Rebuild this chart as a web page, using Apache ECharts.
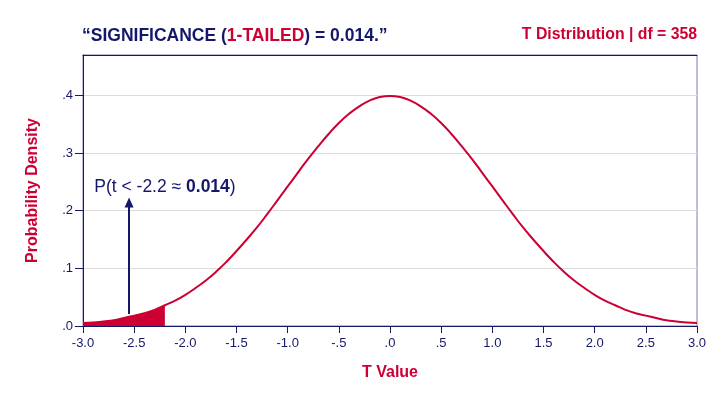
<!DOCTYPE html>
<html>
<head>
<meta charset="utf-8">
<script src="https://cdn.jsdelivr.net/npm/echarts@6/dist/echarts.min.js"></script>
<style>
  html, body { margin: 0; padding: 0; background: #fff; }
  #chart { width: 720px; height: 396px; }
</style>
</head>
<body>
<div id="chart"></div>
<script>
// t values and the density (df = 358)
const tValues = [-3.0, -2.9, -2.8, -2.7, -2.6, -2.5, -2.4, -2.3, -2.2, -2.1, -2.0, -1.9, -1.8, -1.7, -1.6,
  -1.5, -1.4, -1.3, -1.2, -1.1, -1.0, -0.9, -0.8, -0.7, -0.6, -0.5, -0.4, -0.3, -0.2, -0.1, 0.0,
  0.1, 0.2, 0.3, 0.4, 0.5, 0.6, 0.7, 0.8, 0.9, 1.0, 1.1, 1.2, 1.3, 1.4, 1.5,
  1.6, 1.7, 1.8, 1.9, 2.0, 2.1, 2.2, 2.3, 2.4, 2.5, 2.6, 2.7, 2.8, 2.9, 3.0]
const density = [0.005, 0.006, 0.008, 0.010, 0.014, 0.018, 0.022, 0.028, 0.036, 0.044, 0.054, 0.066, 0.079, 0.094, 0.111,
  0.130, 0.150, 0.171, 0.194, 0.218, 0.242, 0.266, 0.290, 0.312, 0.333, 0.352, 0.368, 0.381, 0.391, 0.397, 0.399,
  0.397, 0.391, 0.381, 0.368, 0.352, 0.333, 0.312, 0.290, 0.266, 0.242, 0.218, 0.194, 0.171, 0.150, 0.130,
  0.111, 0.094, 0.079, 0.066, 0.054, 0.044, 0.036, 0.028, 0.022, 0.018, 0.014, 0.010, 0.008, 0.006, 0.005]

// left tail, t < -2.2
const tailT = [-3.0, -2.9, -2.8, -2.7, -2.6, -2.5, -2.4, -2.3, -2.2]
const tailDensity = [0.005, 0.006, 0.008, 0.010, 0.014, 0.018, 0.022, 0.028, 0.036]

// arrow and its label
const arrowFrom = [-2.55, 0.021]
const arrowTo = [-2.55, 0.214]
const notePos = [-2.89, 0.24]

const xTicks = ['-3.0', '-2.5', '-2.0', '-1.5', '-1.0', '-.5', '.0', '.5', '1.0', '1.5', '2.0', '2.5', '3.0']
const yTickValues = [0, 0.1, 0.2, 0.3, 0.4]
const yTicks = ['.0', '.1', '.2', '.3', '.4']

const NAVY = '#15176a'
const RED = '#cc0033'
const FONT = '"Liberation Sans", Arial, sans-serif'

const chart = echarts.init(document.getElementById('chart'))

const option = {
  animation: false,
  textStyle: { fontFamily: FONT },
  title: [{
    left: 82,
    top: 27,
    padding: 0,
    text: '{n|“SIGNIFICANCE (}{r|1-TAILED}{n|) = 0.014.”}',
    textStyle: {
      rich: {
        n: { color: NAVY, fontSize: 17.5, fontWeight: 'bold', fontFamily: FONT },
        r: { color: RED, fontSize: 17.5, fontWeight: 'bold', fontFamily: FONT }
      }
    }
  }, {
    right: 23,
    top: 27,
    padding: 0,
    text: 'T Distribution | df = 358',
    textStyle: { color: RED, fontSize: 15.8, fontWeight: 'bold', fontFamily: FONT }
  }],
  grid: {
    left: 83,
    right: 23,
    top: 55,
    bottom: 70,
    show: true,
    borderColor: '#7a7ab8',
    borderWidth: 1
  },
  xAxis: [{
    type: 'value',
    min: -3,
    max: 3,
    interval: 0.5,
    name: 'T Value',
    nameLocation: 'middle',
    nameGap: 39,
    nameTextStyle: { color: RED, fontSize: 16, fontWeight: 'bold' },
    axisLine: { onZero: false, lineStyle: { color: NAVY, width: 1 } },
    axisTick: { show: true, length: 7, lineStyle: { color: NAVY } },
    axisLabel: {
      color: NAVY,
      fontSize: 13,
      margin: 11,
      formatter: v => xTicks[Math.round((v + 3) * 2)] || ''
    },
    splitLine: { show: false }
  }, {
    // top frame line
    type: 'value',
    position: 'top',
    min: -3,
    max: 3,
    axisLine: { show: true, onZero: false, lineStyle: { color: NAVY, width: 1 } },
    axisTick: { show: false },
    axisLabel: { show: false },
    splitLine: { show: false }
  }],
  yAxis: {
    type: 'value',
    min: 0,
    max: 0.47,
    interval: 0.1,
    name: 'Probability Density',
    nameLocation: 'middle',
    nameGap: 42,
    nameTextStyle: { color: RED, fontSize: 16, fontWeight: 'bold' },
    axisLine: { show: true, onZero: false, lineStyle: { color: NAVY, width: 1 } },
    axisTick: { show: true, length: 8, customValues: yTickValues, lineStyle: { color: NAVY } },
    axisLabel: {
      color: NAVY,
      fontSize: 13,
      margin: 10,
      customValues: yTickValues,
      formatter: v => yTicks[Math.round(v * 10)] || ''
    },
    splitLine: { show: true, lineStyle: { color: '#dcdcdc', width: 1 } }
  },
  series: [{
    // shaded tail
    type: 'line',
    data: tailT.map((t, i) => [t, tailDensity[i]]),
    smooth: true,
    symbol: 'none',
    lineStyle: { width: 0 },
    areaStyle: { color: RED, opacity: 1 },
    z: 2,
    markLine: {
      silent: true,
      symbol: ['none', 'triangle'],
      symbolSize: [9, 10],
      label: { show: false },
      lineStyle: { color: NAVY, width: 2, type: 'solid' },
      data: [[{ coord: arrowFrom }, { coord: arrowTo }]]
    }
  }, {
    // density curve
    type: 'line',
    data: tValues.map((t, i) => [t, density[i]]),
    smooth: true,
    symbol: 'none',
    lineStyle: { color: RED, width: 2 },
    z: 3
  }, {
    // annotation text
    type: 'scatter',
    data: [notePos],
    symbolSize: 0,
    silent: true,
    itemStyle: { opacity: 1 },
    label: {
      show: true,
      position: 'right',
      distance: 0,
      color: NAVY,
      formatter: '{n|P(t < -2.2 ≈ }{b|0.014}{n|)}',
      rich: {
        n: { color: NAVY, fontSize: 17.5, fontFamily: FONT },
        b: { color: NAVY, fontSize: 17.5, fontWeight: 'bold', fontFamily: FONT }
      }
    }
  }]
}

chart.setOption(option)
</script>
</body>
</html>
